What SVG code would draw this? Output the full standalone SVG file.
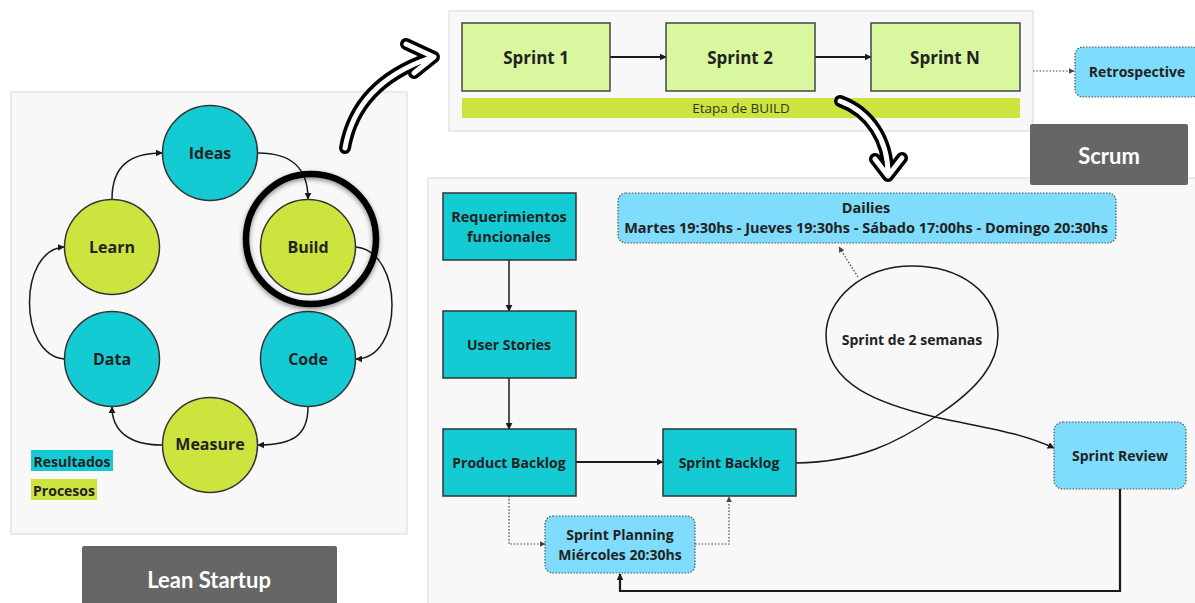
<svg xmlns="http://www.w3.org/2000/svg" width="1195" height="603" viewBox="0 0 1195 603">
  <defs>
    <style>
      .panel { fill: #f8f8f8; stroke: #e4e4e4; stroke-width: 1.5; }
      .res { fill: #15cbd3; stroke: #333; stroke-width: 1.5; }
      .proc { fill: #cde43f; stroke: #333; stroke-width: 1.5; }
      .sprint { fill: #d9f79f; stroke: #444; stroke-width: 1.5; }
      .box { fill: #15cbd3; stroke: #333; stroke-width: 1.5; }
      .meet { fill: #7fdcfc; stroke: #555; stroke-width: 1.2; stroke-dasharray: 1.5 1.5; }
      .tag { fill: #666666; }
      .lbl { font-family: "Open Sans", "Liberation Sans", sans-serif; font-weight: 700; fill: #222; text-anchor: middle; dominant-baseline: central; }
      .tagtxt { font-family: "Lato", "Liberation Sans", sans-serif; font-weight: 700; fill: #fff; text-anchor: middle; dominant-baseline: central; font-size: 22px; }
      .edge { fill: none; stroke: #1a1a1a; stroke-width: 1.5; }
      .thick { fill: none; stroke: #1a1a1a; stroke-width: 2.2; }
      .dot { fill: none; stroke: #444; stroke-width: 1.2; stroke-dasharray: 1.5 1.8; }
      .bigout { fill: none; stroke: #000; stroke-width: 12; stroke-linecap: round; stroke-linejoin: round; }
      .bigin { fill: none; stroke: #fff; stroke-width: 5; stroke-linecap: round; stroke-linejoin: round; }
    </style>
    <marker id="arr" viewBox="0 0 10 10" refX="9" refY="5" markerWidth="7" markerHeight="7" markerUnits="userSpaceOnUse" orient="auto">
      <path d="M0,0 L10,5 L0,10 z" fill="#1a1a1a"/>
    </marker>
    <marker id="arrS" viewBox="0 0 10 10" refX="9" refY="5" markerWidth="6" markerHeight="6" markerUnits="userSpaceOnUse" orient="auto">
      <path d="M0,0 L10,5 L0,10 z" fill="#444"/>
    </marker>
    <filter id="soft" x="-20%" y="-20%" width="140%" height="140%">
      <feGaussianBlur in="SourceAlpha" stdDeviation="2.5"/>
      <feOffset dx="0" dy="2" result="b"/>
      <feComponentTransfer><feFuncA type="linear" slope="0.45"/></feComponentTransfer>
      <feMerge><feMergeNode/><feMergeNode in="SourceGraphic"/></feMerge>
    </filter>
  </defs>

  <rect width="1195" height="603" fill="#ffffff"/>

  <!-- Panels -->
  <rect class="panel" x="11" y="92" width="396" height="442"/>
  <rect class="panel" x="449" y="11" width="584" height="120"/>
  <rect class="panel" x="428" y="178" width="775" height="430"/>

  <!-- Lean Startup cycle -->
  <g id="connectors-lean">
    <path class="edge" marker-end="url(#arr)" d="M258,153 C292,153 308,168 308,199"/>
    <path class="edge" marker-end="url(#arr)" d="M356,247 C404,252 404,359 356,359"/>
    <path class="edge" marker-end="url(#arr)" d="M308,407 C308,436 292,445 258,445"/>
    <path class="edge" marker-end="url(#arr)" d="M162,445 C128,445 112,430 112,407"/>
    <path class="edge" marker-end="url(#arr)" d="M64,359 C18,355 18,250 64,247"/>
    <path class="edge" marker-end="url(#arr)" d="M112,199 C112,166 130,153 162,153"/>
  </g>

  <g id="node-ideas"><circle class="res" cx="210" cy="153" r="47.5"/><text class="lbl" x="210" y="153" font-size="16">Ideas</text></g>
  <g id="node-build"><circle class="proc" cx="308" cy="247" r="47.5"/><text class="lbl" x="308" y="247" font-size="16">Build</text></g>
  <g id="node-code"><circle class="res" cx="308" cy="359" r="47.5"/><text class="lbl" x="308" y="359" font-size="16">Code</text></g>
  <g id="node-measure"><circle class="proc" cx="210" cy="445" r="47.5"/><text class="lbl" x="210" y="444" font-size="16">Measure</text></g>
  <g id="node-data"><circle class="res" cx="112" cy="359" r="47.5"/><text class="lbl" x="112" y="359" font-size="16">Data</text></g>
  <g id="node-learn"><circle class="proc" cx="112" cy="247" r="47.5"/><text class="lbl" x="112" y="247" font-size="16">Learn</text></g>

  <!-- Highlight ring around Build -->
  <g id="build-highlight" filter="url(#soft)">
    <circle cx="311" cy="239" r="65" fill="none" stroke="#000" stroke-width="6.5"/>
  </g>

  <!-- Legend -->
  <g id="legend">
    <rect x="31" y="450" width="82" height="21" fill="#15cbd3"/>
    <text class="lbl" x="72" y="461" font-size="14">Resultados</text>
    <rect x="31" y="479" width="66" height="21" fill="#cde43f"/>
    <text class="lbl" x="64" y="490" font-size="14">Procesos</text>
  </g>

  <g id="tag-lean">
    <rect class="tag" x="82" y="546" width="255" height="60" rx="2"/>
    <text class="tagtxt" x="209" y="579">Lean Startup</text>
  </g>

  <!-- Sprint sequence -->
  <g id="connectors-sprints">
    <path class="thick" marker-end="url(#arr)" d="M610,57 L666,57"/>
    <path class="thick" marker-end="url(#arr)" d="M815,57 L871,57"/>
    <path class="dot" marker-end="url(#arrS)" d="M1033,71 L1074,71"/>
  </g>
  <g id="node-sprint1"><rect class="sprint" x="462" y="23" width="148" height="68"/><text class="lbl" x="536" y="57" font-size="17">Sprint 1</text></g>
  <g id="node-sprint2"><rect class="sprint" x="666" y="23" width="149" height="68"/><text class="lbl" x="740" y="57" font-size="17">Sprint 2</text></g>
  <g id="node-sprintn"><rect class="sprint" x="871" y="23" width="149" height="68"/><text class="lbl" x="945" y="57" font-size="17">Sprint N</text></g>
  <g id="build-stage">
    <rect x="462" y="98" width="558" height="20" fill="#cde43f"/>
    <text x="741" y="108" font-family="Open Sans, Liberation Sans, sans-serif" font-size="13.5" fill="#333" text-anchor="middle" dominant-baseline="central">Etapa de BUILD</text>
  </g>
  <g id="node-retrospective"><rect class="meet" x="1075" y="47" width="125" height="50" rx="8"/><text class="lbl" x="1137" y="71" font-size="14">Retrospective</text></g>

  <g id="tag-scrum">
    <rect class="tag" x="1030" y="124" width="158" height="61" rx="2"/>
    <text class="tagtxt" x="1109" y="155">Scrum</text>
  </g>

  <!-- Big hand-drawn arrows -->
  <g id="big-arrow-1">
    <path class="bigout" d="M345,148 C352,108 378,76 430,58 M406,44 L434,57 L414,73"/>
    <path class="bigin" d="M345,148 C352,108 378,76 430,58 M406,44 L434,57 L414,73"/>
  </g>
  <g id="big-arrow-2">
    <path class="bigout" d="M840,101 C870,112 888,140 888,174 M875,159 L888,176 L902,158"/>
    <path class="bigin" d="M840,101 C870,112 888,140 888,174 M875,159 L888,176 L902,158"/>
  </g>

  <!-- Scrum flow connectors -->
  <g id="connectors-scrum">
    <path class="edge" marker-end="url(#arr)" d="M509,260 L509,311"/>
    <path class="edge" marker-end="url(#arr)" d="M509,378 L509,429"/>
    <path class="thick" marker-end="url(#arr)" d="M576,462 L663,462"/>
    <path class="dot" marker-end="url(#arrS)" d="M509,496 L509,544 L545,544"/>
    <path class="dot" marker-end="url(#arrS)" d="M695,544 L729,544 L729,497"/>
    <path class="thick" marker-end="url(#arr)" d="M1120,489 L1120,591 L620,591 L620,574"/>
    <path class="edge" stroke-width="2" marker-end="url(#arr)" d="M796,463 C860,462 898,442 935,417 C980,388 998,362 998,335 C998,292 960,266 912,266 C862,266 826,300 826,335 C826,385 880,404 935,417 C985,428 1020,432 1054,448"/>
    <path class="dot" marker-end="url(#arrS)" d="M858,277 L839,247"/>
  </g>

  <g id="node-requerimientos"><rect class="box" x="443" y="193" width="133" height="67"/>
    <text class="lbl" x="509" y="216" font-size="14.5">Requerimientos</text>
    <text class="lbl" x="509" y="236" font-size="14.5">funcionales</text></g>
  <g id="node-userstories"><rect class="box" x="443" y="311" width="133" height="67"/><text class="lbl" x="509" y="344" font-size="14">User Stories</text></g>
  <g id="node-productbacklog"><rect class="box" x="443" y="429" width="133" height="67"/><text class="lbl" x="509" y="462" font-size="14">Product Backlog</text></g>
  <g id="node-sprintbacklog"><rect class="box" x="663" y="429" width="133" height="67"/><text class="lbl" x="729" y="462" font-size="14">Sprint Backlog</text></g>
  <g id="node-sprintplanning"><rect class="meet" x="545" y="516" width="150" height="57" rx="8"/>
    <text class="lbl" x="620" y="534" font-size="14">Sprint Planning</text>
    <text class="lbl" x="620" y="554" font-size="14">Miércoles 20:30hs</text></g>
  <g id="node-sprintreview"><rect class="meet" x="1054" y="422" width="132" height="67" rx="9"/><text class="lbl" x="1120" y="455" font-size="14">Sprint Review</text></g>
  <g id="node-dailies"><rect class="meet" x="618" y="193" width="498" height="50" rx="8"/>
    <text class="lbl" x="866" y="207" font-size="14.5">Dailies</text>
    <text class="lbl" x="866" y="227" font-size="14.5">Martes 19:30hs - Jueves 19:30hs - Sábado 17:00hs - Domingo 20:30hs</text></g>
  <g id="label-loop"><text class="lbl" x="912" y="339" font-size="14" fill="#222">Sprint de 2 semanas</text></g>
</svg>
